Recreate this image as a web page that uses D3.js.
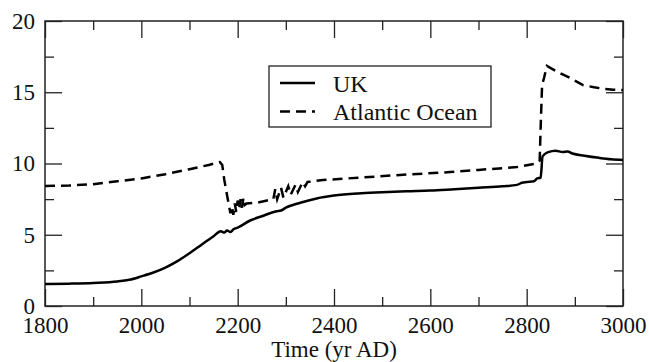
<!DOCTYPE html>
<html lang="en">
<head>
    <meta charset="UTF-8">
    <script src="https://d3js.org/d3.v7.min.js"></script>
    <title>UK vs Atlantic Ocean</title>
    <style>
        body { margin: 0; background: white; }
        .axis path { display: none; }
        .axis line { stroke: #222; stroke-width: 1.3px; }
    </style>
</head>
<body>
    <div class="fig"></div>
    <script>
        // values
        const ukYears = [1800, 1850, 1900, 1950, 1975, 2000, 2025, 2050, 2075, 2100, 2125, 2150, 2165, 2172, 2178, 2185, 2192, 2200,
            2226, 2250, 2281, 2290, 2300, 2330, 2364, 2400, 2450, 2500, 2550, 2600, 2650, 2700, 2750, 2780, 2790, 2800,
            2815, 2822, 2829, 2833, 2845, 2860, 2875, 2885, 2895, 2920, 2950, 2975, 3000];
        const ukValues = [1.54, 1.57, 1.62, 1.72, 1.84, 2.08, 2.35, 2.7, 3.15, 3.7, 4.3, 4.9, 5.25, 5.15, 5.3, 5.2, 5.4, 5.5,
            6.0, 6.3, 6.65, 6.7, 6.9, 7.25, 7.55, 7.75, 7.9, 7.98, 8.05, 8.1, 8.2, 8.3, 8.4, 8.5, 8.65, 8.7,
            8.75, 8.95, 9.0, 10.5, 10.8, 10.9, 10.8, 10.85, 10.7, 10.55, 10.4, 10.3, 10.25];

        const atlYears = [1800, 1850, 1900, 1950, 2000, 2050, 2100, 2140, 2163, 2168, 2172, 2180, 2185, 2188, 2191, 2194, 2197,
            2200, 2203, 2206, 2209, 2212, 2215, 2219, 2240, 2261, 2274, 2278, 2282, 2290, 2295, 2305, 2310, 2320, 2325,
            2335, 2340, 2345, 2377, 2450, 2537, 2641, 2700, 2780, 2821, 2827, 2829, 2832, 2836, 2842, 2860, 2890, 2917,
            2940, 2958, 2980, 3000];
        const atlValues = [8.42, 8.45, 8.55, 8.75, 8.95, 9.25, 9.6, 9.9, 10.1, 9.9, 8.9, 7.4, 6.5, 7.0, 6.4, 7.2, 6.6,
            7.4, 6.8, 7.5, 6.9, 7.6, 7.1, 7.2, 7.25, 7.4, 7.5, 8.2, 7.5, 8.3, 7.6, 8.4, 7.8, 8.5, 8.0,
            8.7, 8.4, 8.7, 8.84, 9.0, 9.2, 9.4, 9.55, 9.75, 10.0, 10.2, 12.5, 15.5, 16.0, 16.85, 16.5, 16.0, 15.5,
            15.35, 15.25, 15.18, 15.15];

        const xMajor = [1800, 2000, 2200, 2400, 2600, 2800, 3000];
        const xMinor = [1900, 2100, 2300, 2500, 2700, 2900];
        const yMajor = [0, 5, 10, 15, 20];
        const yMinor = [2.5, 7.5, 12.5, 17.5];

        const seriesNames = ["UK", "Atlantic Ocean"];

        const serif = '"Liberation Serif", "Times New Roman", Times, "DejaVu Serif", serif';

        const width = 649, height = 362;
        const margin = { left: 45, right: 26, top: 21, bottom: 56 };
        const innerW = width - margin.left - margin.right;
        const innerH = height - margin.top - margin.bottom;

        const svg = d3.select(".fig").append("svg")
            .attr("width", width)
            .attr("height", height)
            .attr("font-family", serif);

        const g = svg.append("g").attr("transform", `translate(${margin.left},${margin.top})`);

        const x = d3.scaleLinear().domain([1800, 3000]).range([0, innerW]);
        const y = d3.scaleLinear().domain([0, 20]).range([innerH, 0]);

        // ticks all point inwards, on every side
        const addAxis = (axis, tx, ty) => g.append("g").attr("class", "axis")
            .attr("transform", `translate(${tx},${ty})`).call(axis)
            .attr("font-family", serif).attr("font-size", 23);

        addAxis(d3.axisBottom(x).tickValues(xMajor).tickSize(-17).tickPadding(11).tickFormat(d3.format("d")), 0, innerH);
        addAxis(d3.axisBottom(x).tickValues(xMinor).tickSize(-9).tickFormat(""), 0, innerH);
        addAxis(d3.axisTop(x).tickValues(xMajor).tickSize(-17).tickFormat(""), 0, 0);
        addAxis(d3.axisTop(x).tickValues(xMinor).tickSize(-9).tickFormat(""), 0, 0);
        addAxis(d3.axisLeft(y).tickValues(yMajor).tickSize(-17).tickPadding(10), 0, 0);
        addAxis(d3.axisLeft(y).tickValues(yMinor).tickSize(-9).tickFormat(""), 0, 0);
        addAxis(d3.axisRight(y).tickValues(yMajor).tickSize(-17).tickFormat(""), innerW, 0);
        addAxis(d3.axisRight(y).tickValues(yMinor).tickSize(-9).tickFormat(""), innerW, 0);

        g.selectAll(".axis text").attr("fill", "#111");

        g.append("rect")
            .attr("width", innerW)
            .attr("height", innerH)
            .attr("fill", "none")
            .attr("stroke", "#222")
            .attr("stroke-width", 1.5);

        const line = d3.line().curve(d3.curveMonotoneX).x(d => x(d[0])).y(d => y(d[1]));

        const ukData = d3.zip(ukYears, ukValues);
        const atlData = d3.zip(atlYears, atlValues);

        g.append("path")
            .datum(ukData)
            .attr("d", line)
            .attr("fill", "none")
            .attr("stroke", "#000")
            .attr("stroke-width", 2.5)
            .attr("stroke-linejoin", "round");

        g.append("path")
            .datum(atlData)
            .attr("d", d3.line().x(d => x(d[0])).y(d => y(d[1])))
            .attr("fill", "none")
            .attr("stroke", "#000")
            .attr("stroke-width", 2.5)
            .attr("stroke-dasharray", "10,6");

        // x axis title
        svg.append("text")
            .attr("x", margin.left + innerW / 2)
            .attr("y", 357)
            .attr("text-anchor", "middle")
            .attr("font-size", 23)
            .attr("fill", "#111")
            .text("Time (yr AD)");

        // legend
        const legend = svg.append("g").attr("transform", "translate(269,66)");
        legend.append("rect")
            .attr("width", 222)
            .attr("height", 61)
            .attr("fill", "white")
            .attr("stroke", "#222")
            .attr("stroke-width", 1.3);

        seriesNames.forEach((name, i) => {
            const ly = 17 + i * 28.5;
            legend.append("line")
                .attr("x1", 11).attr("x2", 46)
                .attr("y1", ly).attr("y2", ly)
                .attr("stroke", "#000")
                .attr("stroke-width", 2.5)
                .attr("stroke-dasharray", i === 1 ? "10,6" : null);
            legend.append("text")
                .attr("x", 64)
                .attr("y", ly + 8.5)
                .attr("font-size", 24)
                .attr("fill", "#111")
                .text(name);
        });
    </script>
</body>
</html>
